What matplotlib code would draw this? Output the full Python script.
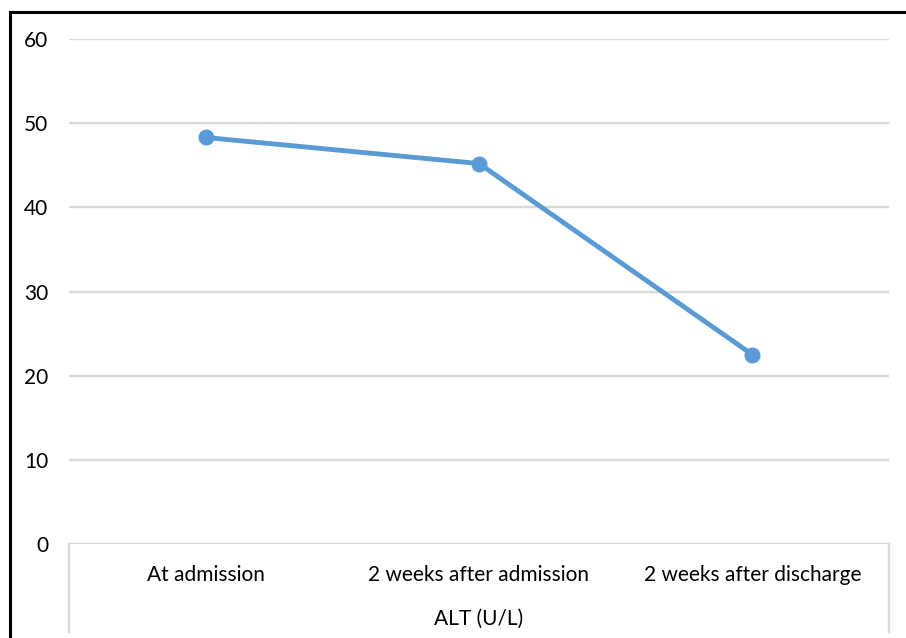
import matplotlib.pyplot as plt
from matplotlib.lines import Line2D

categories = ['At admission', '2 weeks after admission', '2 weeks after discharge']
alt_values = [48.3, 45.2, 22.5]
group_label = 'ALT (U/L)'
y_ticks = [0, 10, 20, 30, 40, 50, 60]

W, H = 906, 638
plt.rcParams['font.family'] = ['Lato', 'DejaVu Sans']
fs = 15

fig = plt.figure(figsize=(W / 100, H / 100), dpi=100)
ax = fig.add_axes([69 / W, (H - 544) / H, 820 / W, 505 / H])

x = list(range(len(categories)))
ax.plot(x, alt_values, color='#5B9BD5', lw=3.5, marker='o', markersize=10.5,
        solid_capstyle='round', zorder=3)

ax.set_xlim(-0.5, len(categories) - 0.5)
ax.set_ylim(0, 60)
ax.set_yticks(y_ticks)
ax.set_yticklabels([str(t) for t in y_ticks], fontsize=fs, color='#000000')
ax.tick_params(axis='y', length=0, pad=15)
ax.set_xticks([])
ax.grid(axis='y', color='#D9D9D9', lw=1.7)
ax.set_axisbelow(True)
for s in ax.spines.values():
    s.set_visible(False)

# category and group labels under the axis
tr = ax.get_xaxis_transform()
for i, c in enumerate(categories):
    ax.text(i, -31 / 505, c, transform=tr, ha='center', va='center', fontsize=fs)
ax.text(1, -75 / 505, group_label, transform=tr, ha='center', va='center', fontsize=fs)
for xe in (-0.5, len(categories) - 0.5):
    ax.plot([xe, xe], [0, -88 / 505], transform=tr, color='#D9D9D9', lw=1.7, clip_on=False)

# outer frame (left and top edges)
fig.add_artist(Line2D([10 / W, 10 / W], [0, 1 - 12 / H], color='black', lw=2.2))
fig.add_artist(Line2D([10 / W, 1], [1 - 12 / H, 1 - 12 / H], color='black', lw=2.2))

fig.savefig('out.png', dpi=100)
